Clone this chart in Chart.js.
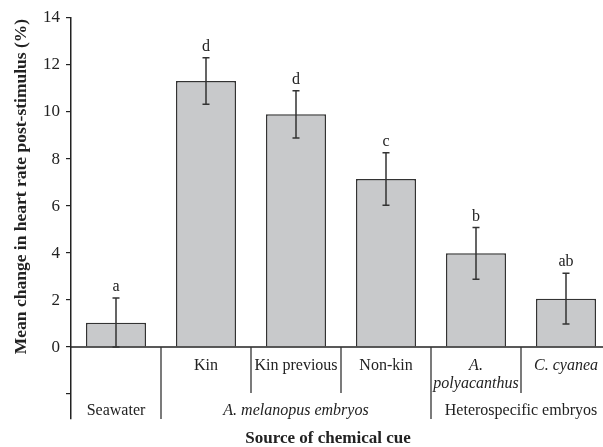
<!DOCTYPE html>
<html>
<head>
<meta charset="utf-8">
<script src="https://cdn.jsdelivr.net/npm/chart.js@4.4.1/dist/chart.umd.min.js"></script>
<style>
  html, body { margin: 0; padding: 0; background: #fff; overflow: hidden; }
  /* the original figure is cropped on the right, so the plot runs past the window edge */
  #wrap { width: 611px; height: 447px; position: relative; }
</style>
</head>
<body>
<div id="wrap"><canvas id="chart"></canvas></div>
<script>
// data
const categories = ["Seawater", "Kin", "Kin previous", "Non-kin", "A. polyacanthus", "C. cyanea"];
const meanChange = [1.04, 11.32, 9.9, 7.15, 3.99, 2.06];
const errorSize = [1.05, 0.99, 1.0, 1.12, 1.1, 1.08];
const sigLetters = ["a", "d", "d", "c", "b", "ab"];
const yTicks = [0, 2, 4, 6, 8, 10, 12, 14];

// lower axis table: label rows under the bars
const subLabels = [[], ["Kin"], ["Kin previous"], ["Non-kin"], ["A.", "polyacanthus"], ["C. cyanea"]];
const subItalic = [false, false, false, false, true, true];
const groupLabels = ["Seawater", "A. melanopus embryos", "Heterospecific embryos"];
const groupFirst = [0, 1, 4];
const groupLast = [0, 3, 5];
const groupItalic = [false, true, false];

const SERIF = "'Liberation Serif', 'Times New Roman', serif";
const INK = "#222";

// error bars, letters, zero line, y title and the category table
const annotate = {
  id: "annotate",
  afterDatasetsDraw(chart) {
    const { ctx, chartArea: area, scales: { x, y } } = chart;
    const y0 = y.getPixelForValue(0);
    ctx.save();
    // zero line
    ctx.strokeStyle = INK;
    ctx.lineWidth = 1.5;
    ctx.beginPath();
    ctx.moveTo(area.left, y0);
    ctx.lineTo(area.right, y0);
    ctx.stroke();

    // error bars
    ctx.strokeStyle = "#333";
    ctx.lineWidth = 1.5;
    meanChange.forEach((v, i) => {
      const cx = x.getPixelForValue(i);
      const top = y.getPixelForValue(v + errorSize[i]);
      const bot = y.getPixelForValue(Math.max(0, v - errorSize[i]));
      ctx.beginPath();
      ctx.moveTo(cx, top); ctx.lineTo(cx, bot);
      ctx.moveTo(cx - 3.5, top); ctx.lineTo(cx + 3.5, top);
      ctx.moveTo(cx - 3.5, bot); ctx.lineTo(cx + 3.5, bot);
      ctx.stroke();
      ctx.fillStyle = INK;
      ctx.font = "16px " + SERIF;
      ctx.textAlign = "center";
      ctx.textBaseline = "middle";
      ctx.fillText(sigLetters[i], cx, top - 11);
    });
    ctx.restore();
  },
  afterDraw(chart) {
    const { ctx, chartArea: area, scales: { x, y } } = chart;
    const y0 = y.getPixelForValue(0);
    const half = (x.getPixelForValue(1) - x.getPixelForValue(0)) / 2;
    const subBottom = y.getPixelForValue(-1.95);
    ctx.save();
    ctx.strokeStyle = "#333";
    ctx.lineWidth = 1.3;
    ctx.fillStyle = INK;
    ctx.textAlign = "center";
    ctx.textBaseline = "middle";

    // dividers between categories
    for (let i = 1; i < categories.length; i++) {
      const bx = x.getPixelForValue(i) - half;
      const full = groupFirst.includes(i);
      ctx.beginPath();
      ctx.moveTo(bx, y0);
      ctx.lineTo(bx, full ? area.bottom : subBottom);
      ctx.stroke();
    }

    // sub labels
    subLabels.forEach((lines, i) => {
      ctx.font = (subItalic[i] ? "italic " : "") + "16px " + SERIF;
      lines.forEach((t, k) => {
        ctx.fillText(t, x.getPixelForValue(i), y0 + 19 + k * 18);
      });
    });

    // group labels
    groupLabels.forEach((t, g) => {
      const l = x.getPixelForValue(groupFirst[g]) - half;
      const r = x.getPixelForValue(groupLast[g]) + half;
      ctx.font = (groupItalic[g] ? "italic " : "") + "16px " + SERIF;
      ctx.fillText(t, (l + r) / 2, y0 + 64);
    });

    // x title
    ctx.font = "bold 17px " + SERIF;
    ctx.fillText("Source of chemical cue", 328, 439);

    // y title, centred on the positive part of the axis
    ctx.font = "bold 17.5px " + SERIF;
    ctx.translate(21, (y.getPixelForValue(0) + y.getPixelForValue(14)) / 2 + 4);
    ctx.rotate(-Math.PI / 2);
    ctx.fillText("Mean change in heart rate post-stimulus (%)", 0, 0);
    ctx.restore();
  }
};

new Chart(document.getElementById("chart"), {
  type: "bar",
  data: {
    labels: categories,
    datasets: [{
      data: meanChange,
      backgroundColor: "#c8c9cb",
      borderColor: "#333",
      borderWidth: 1.5,
      barPercentage: 0.667,
      categoryPercentage: 1
    }]
  },
  options: {
    responsive: true,
    maintainAspectRatio: false,
    animation: false,
    layout: { padding: { top: 18, right: 0, bottom: 28, left: 0 } },
    plugins: { legend: { display: false }, tooltip: { enabled: false } },
    scales: {
      x: { display: false },
      y: {
        min: -3.06,
        max: 14,
        afterFit(scale) { scale.width = 71; },
        afterBuildTicks(scale) {
          scale.ticks = [-2].concat(yTicks).map(v => ({ value: v }));
        },
        border: { display: true, color: INK, width: 1.5 },
        grid: { display: true, drawOnChartArea: false, drawTicks: true, tickLength: 5, color: INK, lineWidth: 1.2 },
        ticks: {
          color: INK,
          padding: 6,
          font: { family: SERIF, size: 17 },
          callback: v => (v < 0 ? "" : v)
        }
      }
    }
  },
  plugins: [annotate]
});
</script>
</body>
</html>
